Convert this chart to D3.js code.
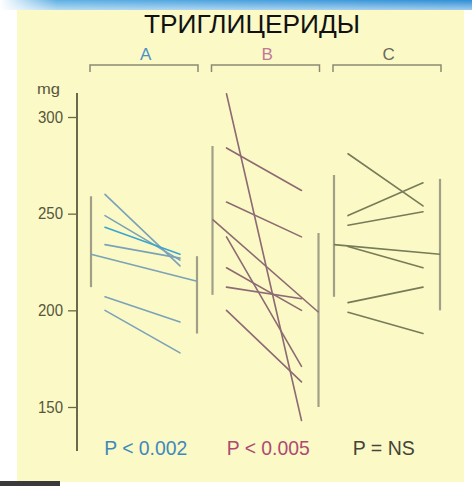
<!DOCTYPE html>
<html><head><meta charset="utf-8">
<script src="https://cdn.jsdelivr.net/npm/d3@7"></script>
<style>html,body{margin:0;padding:0;background:#fff;}svg{display:block;}</style>
</head><body>
<svg id="c" width="472" height="486"></svg>
<script>
// ---- data ----
const title = "ТРИГЛИЦЕРИДЫ";
const groups = ["A", "B", "C"];
const pLabels = ["P < 0.002", "P < 0.005", "P = NS"];
const yTicks = [150, 200, 250, 300];
const yUnit = "mg";
// individual patients: before -> after
const beforeA = [260, 249, 243, 234, 207, 200];
const afterA  = [223, 226, 229, 227, 194, 178];
const beforeB = [312, 284, 256, 238, 222, 212, 200];
const afterB  = [143, 262, 238, 171, 200, 206, 163];
const beforeC = [281, 249, 244, 233, 204, 199];
const afterC  = [254, 266, 251, 222, 212, 188];
// range bars (min, max) before and after
const rangeBeforeLo = [212, 208, 207];
const rangeBeforeHi = [259, 285, 270];
const rangeAfterLo  = [188, 150, 200];
const rangeAfterHi  = [228, 240, 268];
// mean lines
const meanBefore = [229, 247, 234];
const meanAfter  = [215, 199, 229];

const befores = [beforeA, beforeB, beforeC];
const afters = [afterA, afterB, afterC];

// ---- styles ----
const lineCol = ["#7aa2b8", "#8e6a72", "#767c58"];
const accentCol = ["#3aa6d0", "#d070a8", "#6f7650"];
const textCol = ["#3f88bc", "#ae4a72", "#44443a"];
const labelCol = ["#4a92c4", "#c0789a", "#6a6a5a"];
const barCol = "#a0a088";
const axisCol = "#6a6a4a";
const narrow = "Liberation Sans, Arial, sans-serif";

const svg = d3.select("#c");
const defs = svg.append("defs");
const g1 = defs.append("linearGradient").attr("id", "topband").attr("x1", 0).attr("x2", 1).attr("y1", 0).attr("y2", 0);
g1.append("stop").attr("offset", "0").attr("stop-color", "#ffffff");
g1.append("stop").attr("offset", "0.12").attr("stop-color", "#5fb0e4");
g1.append("stop").attr("offset", "1").attr("stop-color", "#2f8fd6");
const g2 = defs.append("linearGradient").attr("id", "topfade").attr("x1", 0).attr("x2", 0).attr("y1", 0).attr("y2", 1);
g2.append("stop").attr("offset", "0").attr("stop-color", "#ffffff").attr("stop-opacity", 0);
g2.append("stop").attr("offset", "1").attr("stop-color", "#ffffff").attr("stop-opacity", 0.55);

// background panel
svg.append("rect").attr("x", 17).attr("y", 8).attr("width", 447).attr("height", 474).attr("fill", "#fbf9c6");
svg.append("rect").attr("x", 0).attr("y", 0).attr("width", 472).attr("height", 10).attr("fill", "url(#topband)");
svg.append("rect").attr("x", 0).attr("y", 0).attr("width", 472).attr("height", 10).attr("fill", "url(#topfade)");
svg.append("rect").attr("x", 0).attr("y", 481).attr("width", 60).attr("height", 5).attr("fill", "#3a3a3a");

// scales
const y = d3.scaleLinear().domain([150, 300]).range([407, 117]);
const x = d3.scaleBand().domain(groups).range([85, 449.5]).paddingInner(0).paddingOuter(0);
const bw = x.bandwidth();
const inner = d3.scaleLinear().domain([0, 1]).range([0, bw]);
const pos = { barL: 6 / 121.5, start: 20 / 121.5, end: 95 / 121.5, barR: 112 / 121.5, brL: 5 / 121.5, brR: 113 / 121.5 };
const px = (gname, key) => x(gname) + inner(pos[key]);

// title
svg.append("text").attr("x", 252).attr("y", 33).attr("text-anchor", "middle")
  .attr("font-family", "Liberation Sans, Arial, sans-serif").attr("font-size", 25).attr("fill", "#111")
  .attr("textLength", 216).attr("lengthAdjust", "spacingAndGlyphs")
  .text(title);

// y axis
svg.append("line").attr("x1", 77).attr("x2", 77).attr("y1", 93).attr("y2", 451)
  .attr("stroke", axisCol).attr("stroke-width", 2);
const ax = svg.append("g").attr("transform", "translate(77,0)")
  .call(d3.axisLeft(y).tickValues(yTicks).tickSize(9).tickPadding(5));
ax.select(".domain").remove();
ax.selectAll(".tick line").attr("stroke", axisCol).attr("stroke-width", 1.3);
ax.selectAll(".tick text").attr("fill", "#56563c").attr("font-size", 16)
  .attr("font-family", narrow).attr("textLength", 25).attr("lengthAdjust", "spacingAndGlyphs");
svg.append("text").attr("x", 37).attr("y", 94).attr("fill", "#56563c").attr("font-size", 15)
  .attr("font-family", narrow).attr("textLength", 23).attr("lengthAdjust", "spacingAndGlyphs").text(yUnit);

const pWidths = [83, 83, 62];
groups.forEach((gname, i) => {
  const gg = svg.append("g");
  // bracket
  const bx1 = px(gname, "brL"), bx2 = px(gname, "brR");
  gg.append("path").attr("d", `M${bx1},72V65H${bx2}V72`).attr("fill", "none")
    .attr("stroke", "#8a8a74").attr("stroke-width", 1.5);
  // label
  gg.append("text").attr("x", x(gname) + bw / 2).attr("y", 60).attr("text-anchor", "middle")
    .attr("font-family", "Liberation Sans, Arial, sans-serif").attr("font-size", 17)
    .attr("fill", labelCol[i]).text(gname);
  // range bars
  gg.append("line").attr("x1", px(gname, "barL")).attr("x2", px(gname, "barL"))
    .attr("y1", y(rangeBeforeHi[i])).attr("y2", y(rangeBeforeLo[i]))
    .attr("stroke", barCol).attr("stroke-width", 2.2);
  gg.append("line").attr("x1", px(gname, "barR")).attr("x2", px(gname, "barR"))
    .attr("y1", y(rangeAfterHi[i])).attr("y2", y(rangeAfterLo[i]))
    .attr("stroke", barCol).attr("stroke-width", 2.2);
  // mean line
  gg.append("line").attr("x1", px(gname, "barL")).attr("x2", px(gname, "barR"))
    .attr("y1", y(meanBefore[i])).attr("y2", y(meanAfter[i]))
    .attr("stroke", lineCol[i]).attr("stroke-width", 1.6);
  // patients
  const pts = befores[i].map((b, k) => ({ b, a: afters[i][k] }));
  gg.selectAll("line.pt").data(pts).enter().append("line").attr("class", "pt")
    .attr("x1", px(gname, "start")).attr("x2", px(gname, "end"))
    .attr("y1", d => y(d.b)).attr("y2", d => y(d.a))
    .attr("stroke", (d, k) => (k === 2 && i === 0) ? accentCol[i] : lineCol[i])
    .attr("stroke-width", 1.6).attr("stroke-linecap", "round");
  // p label
  gg.append("text").attr("x", x(gname) + bw / 2 + (i === 0 ? 0 : (i === 1 ? 1 : -5))).attr("y", 455)
    .attr("text-anchor", "middle")
    .attr("font-family", narrow).attr("font-size", 21)
    .attr("textLength", pWidths[i]).attr("lengthAdjust", "spacingAndGlyphs")
    .attr("fill", textCol[i]).text(pLabels[i]);
});
</script>
</body></html>
